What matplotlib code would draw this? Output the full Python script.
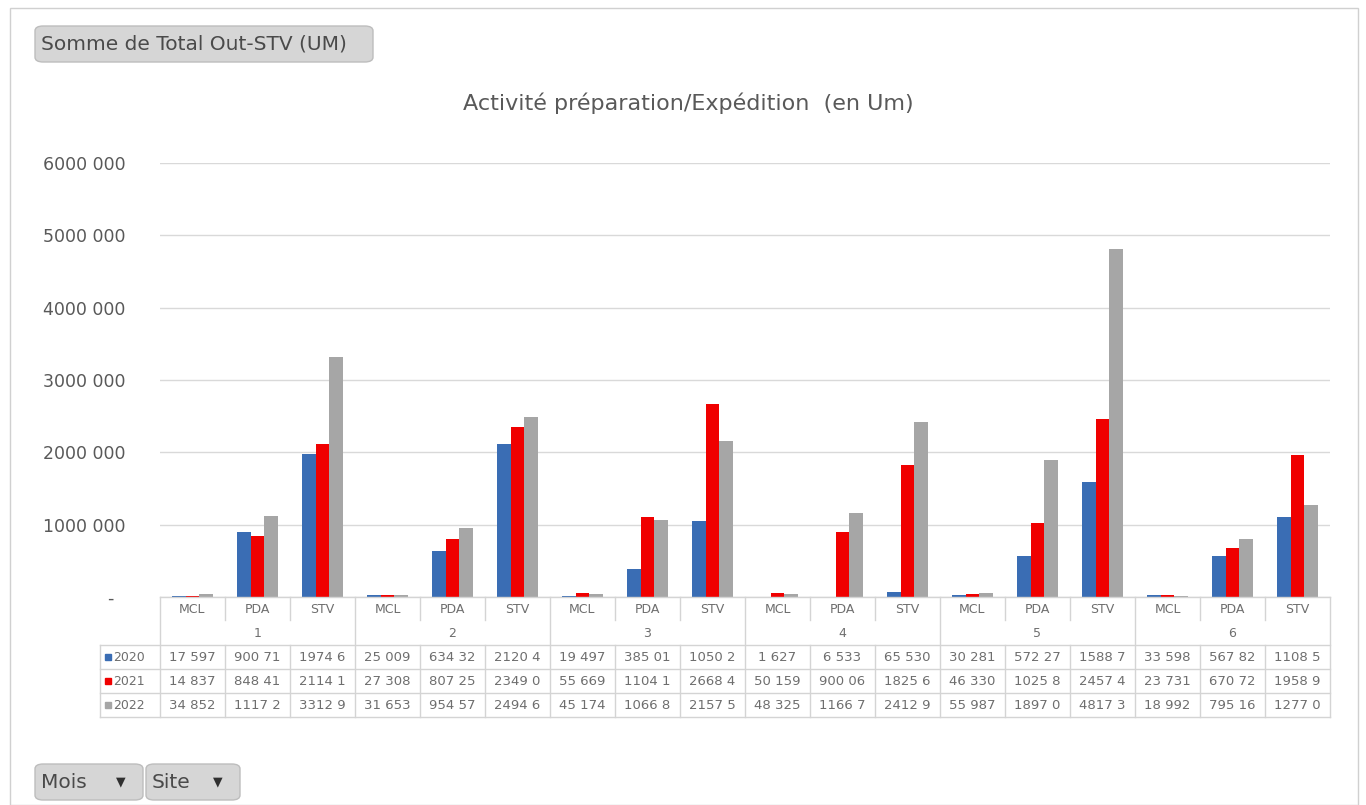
import matplotlib.pyplot as plt
from matplotlib.patches import FancyBboxPatch, Rectangle
import numpy as np

plt.rcParams['font.family'] = ['DejaVu Sans']

months = ['1', '2', '3', '4', '5', '6']
sites = ['MCL', 'PDA', 'STV']
years = ['2020', '2021', '2022']
colors = ['#3A6DB4', '#F00000', '#A6A6A6']

# valeurs par (mois, site) dans l'ordre MCL, PDA, STV
v2020 = [17597, 900710, 1974600, 25009, 634320, 2120400, 19497, 385010, 1050200,
         1627, 6533, 65530, 30281, 572270, 1588700, 33598, 567820, 1108500]
v2021 = [14837, 848410, 2114100, 27308, 807250, 2349000, 55669, 1104100, 2668400,
         50159, 900060, 1825600, 46330, 1025800, 2457400, 23731, 670720, 1958900]
v2022 = [34852, 1117200, 3312900, 31653, 954570, 2494600, 45174, 1066800, 2157500,
         48325, 1166700, 2412900, 55987, 1897000, 4817300, 18992, 795160, 1277000]

# texte tel qu'affiché (tronqué) dans le tableau de données
t2020 = ['17 597', '900 71', '1974 6', '25 009', '634 32', '2120 4', '19 497', '385 01', '1050 2',
         '1 627', '6 533', '65 530', '30 281', '572 27', '1588 7', '33 598', '567 82', '1108 5']
t2021 = ['14 837', '848 41', '2114 1', '27 308', '807 25', '2349 0', '55 669', '1104 1', '2668 4',
         '50 159', '900 06', '1825 6', '46 330', '1025 8', '2457 4', '23 731', '670 72', '1958 9']
t2022 = ['34 852', '1117 2', '3312 9', '31 653', '954 57', '2494 6', '45 174', '1066 8', '2157 5',
         '48 325', '1166 7', '2412 9', '55 987', '1897 0', '4817 3', '18 992', '795 16', '1277 0']

yticks = [0, 1000000, 2000000, 3000000, 4000000, 5000000, 6000000]
ytick_labels = ['-  ', '1000 000', '2000 000', '3000 000', '4000 000', '5000 000', '6000 000']

W, H = 1366, 805
fig = plt.figure(figsize=(W / 100, H / 100), dpi=100)
txt = '#595959'
grid = '#D9D9D9'


def px(x0, y0, x1, y1):
    # rectangle en pixels (origine en haut à gauche) -> coordonnées figure
    return [x0 / W, 1 - y1 / H, (x1 - x0) / W, (y1 - y0) / H]


# cadre extérieur
fig.patches.append(Rectangle((10 / W, 0), 1348 / W, 1 - 8 / H, transform=fig.transFigure,
                             fill=False, ec='#D0D0D0', lw=1))

# zone du graphique
ax = fig.add_axes(px(160, 163, 1330, 597))
n = len(v2020)
x = np.arange(n)
bw = 0.215
for i, (vals, c) in enumerate(zip([v2020, v2021, v2022], colors)):
    ax.bar(x + (i - 1) * bw, vals, bw, color=c, zorder=3)
ax.set_xlim(-0.5, n - 0.5)
ax.set_ylim(0, 6000000)
ax.set_yticks(yticks)
ax.set_yticklabels(ytick_labels, color=txt, fontsize=12.5)
ax.tick_params(axis='y', length=0, pad=25)
ax.tick_params(axis='x', length=0, labelbottom=False)
ax.yaxis.grid(True, color=grid, lw=1, zorder=0)
for s in ax.spines.values():
    s.set_visible(False)

fig.text(688 / W, 1 - 103 / H, 'Activité préparation/Expédition  (en Um)', ha='center', va='center',
         fontsize=16, color=txt)

# tableau de données sous le graphique
tax = fig.add_axes(px(100, 597, 1330, 718))
left = -0.5 - 60 / 65
tax.set_xlim(left, n - 0.5)
tax.set_ylim(718, 597)
tax.axis('off')
lc = '#D4D4D4'
tc = '#6E6E6E'
fs = 9.5
# lignes horizontales
tax.plot([-0.5, n - 0.5], [597, 597], color=lc, lw=1, clip_on=False)
for yy in [645, 669, 693, 717]:
    tax.plot([left, n - 0.5], [yy, yy], color=lc, lw=1, clip_on=False)
# lignes verticales
for k in range(n + 1):
    xx = k - 0.5
    if k % 3 == 0:
        tax.plot([xx, xx], [597, 717], color=lc, lw=1, clip_on=False)
    else:
        tax.plot([xx, xx], [597, 620], color=lc, lw=1, clip_on=False)
        tax.plot([xx, xx], [645, 717], color=lc, lw=1, clip_on=False)
tax.plot([left, left], [645, 717], color=lc, lw=1, clip_on=False)

for k in range(n):
    tax.text(k, 609, sites[k % 3], ha='center', va='center', fontsize=9, color=tc)
for m, lab in enumerate(months):
    tax.text(3 * m + 1, 633, lab, ha='center', va='center', fontsize=9, color=tc)

row_y = [657, 681, 705]
for r, (labels, yr, c) in enumerate(zip([t2020, t2021, t2022], years, colors)):
    for k in range(n):
        tax.text(k, row_y[r], labels[k], ha='center', va='center', fontsize=fs, color=tc)
    tax.add_patch(Rectangle((left + 5 / 65, row_y[r] - 3), 6 / 65, 6, color=c, clip_on=False))
    tax.text(left + 13 / 65, row_y[r], yr, ha='left', va='center', fontsize=9, color=tc)


# boutons de champ (style tableau croisé dynamique)
def button(x0, y0, x1, y1, label, arrow=False):
    b = FancyBboxPatch((x0 / W, 1 - y1 / H), (x1 - x0) / W, (y1 - y0) / H,
                       boxstyle='round,pad=0,rounding_size=0.006', transform=fig.transFigure,
                       fc='#D6D6D6', ec='#BDBDBD', lw=1)
    fig.patches.append(b)
    fig.text((x0 + 6) / W, 1 - (y0 + y1) / 2 / H, label, ha='left', va='center',
             fontsize=14.5, color='#4A4A4A')
    if arrow:
        fig.text((x1 - 22) / W, 1 - (y0 + y1) / 2 / H, '▼', ha='center', va='center',
                 fontsize=9, color='#303030')


button(35, 26, 373, 62, 'Somme de Total Out-STV (UM)')
button(35, 764, 143, 800, 'Mois', True)
button(146, 764, 240, 800, 'Site', True)

fig.savefig('out.png', dpi=100)
